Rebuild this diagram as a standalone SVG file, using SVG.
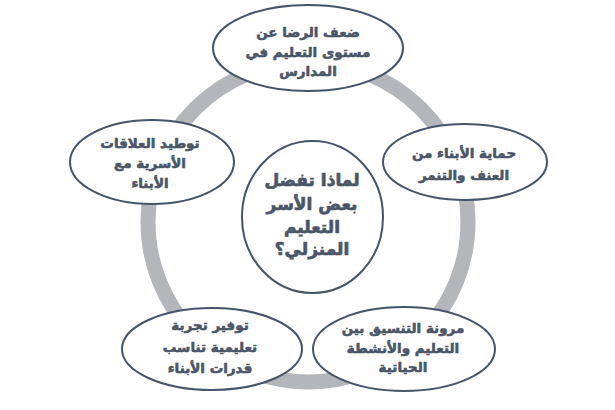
<svg xmlns="http://www.w3.org/2000/svg" width="615" height="410" viewBox="0 0 615 410">
<style>
.node{fill:#ffffff;stroke:#44546a;stroke-width:2}
.t{font-family:"DejaVu Sans","Noto Sans",sans-serif;font-weight:bold;font-size:13.5px;fill:#4a5668;stroke:#4a5668;stroke-width:0.6;text-anchor:middle}
.c{font-size:17px;stroke-width:0.7}
</style>
<rect width="615" height="410" fill="#ffffff"/>
<g id="connectors">
<circle cx="308" cy="222" r="160" fill="none" stroke="#b3b6bb" stroke-width="15"/>
</g>
<g id="center">
<ellipse class="node" cx="312.5" cy="217" rx="70.5" ry="76"/>
<text class="t c" direction="rtl"><tspan x="312" y="186">لماذا تفضل</tspan><tspan x="312" y="210">بعض الأسر</tspan><tspan x="312" y="233">التعليم</tspan><tspan x="312" y="255">المنزلي؟</tspan></text>
</g>
<g id="n1">
<ellipse class="node" cx="308" cy="48" rx="95" ry="43"/>
<text class="t" direction="rtl"><tspan x="308" y="37">ضعف الرضا عن</tspan><tspan x="308" y="57">مستوى التعليم في</tspan><tspan x="308" y="76">المدارس</tspan></text>
</g>
<g id="n2">
<ellipse class="node" cx="465" cy="162" rx="82" ry="38"/>
<text class="t" direction="rtl"><tspan x="464" y="158">حماية الأبناء من</tspan><tspan x="464" y="180">العنف والتنمر</tspan></text>
</g>
<g id="n3">
<ellipse class="node" cx="404" cy="349" rx="91" ry="42"/>
<text class="t" direction="rtl"><tspan x="403" y="333">مرونة التنسيق بين</tspan><tspan x="403" y="353">التعليم والأنشطة</tspan><tspan x="403" y="372">الحياتية</tspan></text>
</g>
<g id="n4">
<ellipse class="node" cx="212" cy="349" rx="90" ry="41"/>
<text class="t" direction="rtl"><tspan x="210" y="330">توفير تجربة</tspan><tspan x="210" y="352">تعليمية تناسب</tspan><tspan x="210" y="373">قدرات الأبناء</tspan></text>
</g>
<g id="n5">
<ellipse class="node" cx="152" cy="162" rx="82" ry="42"/>
<text class="t" direction="rtl"><tspan x="150" y="148">توطيد العلاقات</tspan><tspan x="150" y="168">الأسرية مع</tspan><tspan x="150" y="188">الأبناء</tspan></text>
</g>
</svg>
